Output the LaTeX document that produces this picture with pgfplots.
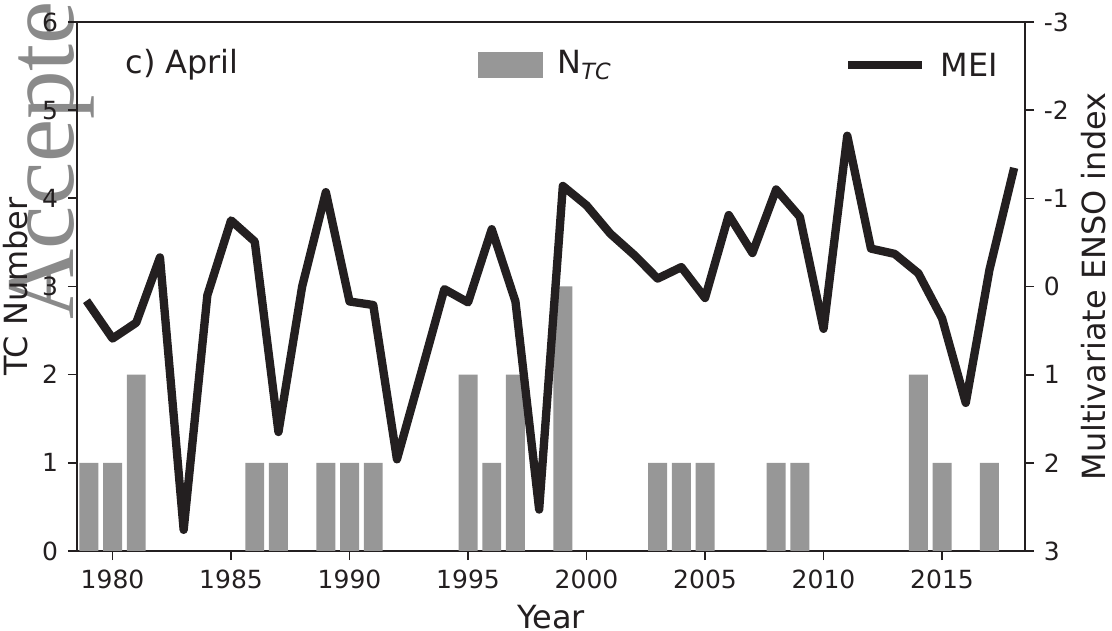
\documentclass[border=0pt]{standalone}
\usepackage{fontspec}
\setmainfont{DejaVu Sans}
\newfontfamily\wmfont{Liberation Serif}
\usepackage{pgfplots}
\pgfplotsset{compat=1.18}
\definecolor{barcol}{HTML}{979797}
\definecolor{ink}{HTML}{231F20}
\definecolor{wm}{HTML}{8A8A8A}

\pgfplotstableread{
year n
1979 1
1980 1
1981 2
1986 1
1987 1
1989 1
1990 1
1991 1
1995 2
1996 1
1997 2
1999 3
2003 1
2004 1
2005 1
2008 1
2009 1
2014 2
2015 1
2017 1
}\tcdata

\pgfplotstableread{
year mei
1979 0.20
1980 0.59
1981 0.41
1982 -0.33
1983 2.76
1984 0.10
1985 -0.75
1986 -0.51
1987 1.65
1988 0.00
1989 -1.07
1990 0.17
1991 0.21
1992 1.96
1993 1.00
1994 0.03
1995 0.18
1996 -0.65
1997 0.17
1998 2.53
1999 -1.14
2000 -0.92
2001 -0.60
2002 -0.36
2003 -0.09
2004 -0.22
2005 0.13
2006 -0.81
2007 -0.38
2008 -1.10
2009 -0.79
2010 0.48
2011 -1.71
2012 -0.43
2013 -0.37
2014 -0.15
2015 0.36
2016 1.32
2017 -0.19
2018 -1.30
}\meidata

\pgfplotsset{
  common/.style={
    at={(0,0)}, anchor=south west, scale only axis,
    width=341.28bp, height=190.44bp,
    xmin=1978.5, xmax=2018.5,
    tick align=outside,
    major tick length=3.3bp,
    axis line style={ink, line width=0.6bp},
    tick style={ink, line width=0.6bp},
    tick label style={font=\fontsize{9bp}{10bp}\selectfont, text=ink},
    label style={font=\fontsize{11.5bp}{13bp}\selectfont, text=ink},
  }
}
\def\legy{174.96bp}
\tikzset{legtext/.style={anchor=west, inner sep=0pt, text=ink, font=\fontsize{11.5bp}{13bp}\selectfont}}

\begin{document}
\begin{tikzpicture}
\node[rotate=90, anchor=base west, inner sep=0pt, text=wm, font=\wmfont\fontsize{35bp}{35bp}\selectfont] at (-1.44bp,83.2bp) {Accepted};
\begin{axis}[
  common,
  ymin=0, ymax=6,
  xtick={1980,1985,...,2015},
  xticklabels={1980,1985,1990,1995,2000,2005,2010,2015},
  ytick={0,1,2,3,4,5,6}, yticklabels={0,1,2,3,4,5,6},
  xtick pos=bottom, ytick pos=left,
  xlabel={Year}, ylabel={TC Number},
  ylabel shift=-1.8bp,
  xlabel shift=-0.8bp,
]
\addplot[ybar, bar width=0.8, fill=barcol, draw=none] table[x=year, y=n] {\tcdata};
\end{axis}
\begin{axis}[
  common,
  ymin=-3, ymax=3, y dir=reverse,
  axis y line*=right, axis x line=none,
  ytick={-3,-2,-1,0,1,2,3}, yticklabels={-3,-2,-1,0,1,2,3},
  ylabel={Multivariate ENSO index},
  ylabel shift=-2.4bp,
]
\addplot[ink, line width=3bp, line join=round, line cap=rect, mark=none] table[x=year, y=mei] {\meidata};
\end{axis}
% legend
\node[legtext] at (17.28bp,\legy) {c) April};
\fill[barcol] (144.36bp,174.96bp-4.68bp) rectangle (167.76bp,174.96bp+4.68bp);
\node[legtext] at (172.8bp,\legy) {N\textsubscript{\textit{TC}}};
\draw[ink, line width=3bp] (277.56bp,\legy) -- (304.2bp,\legy);
\node[legtext] at (310.68bp,\legy) {MEI};
\pgfresetboundingbox
\path[use as bounding box] (-27.72bp,-28.8bp) rectangle (372.6bp,198.36bp);
\end{tikzpicture}
\end{document}
